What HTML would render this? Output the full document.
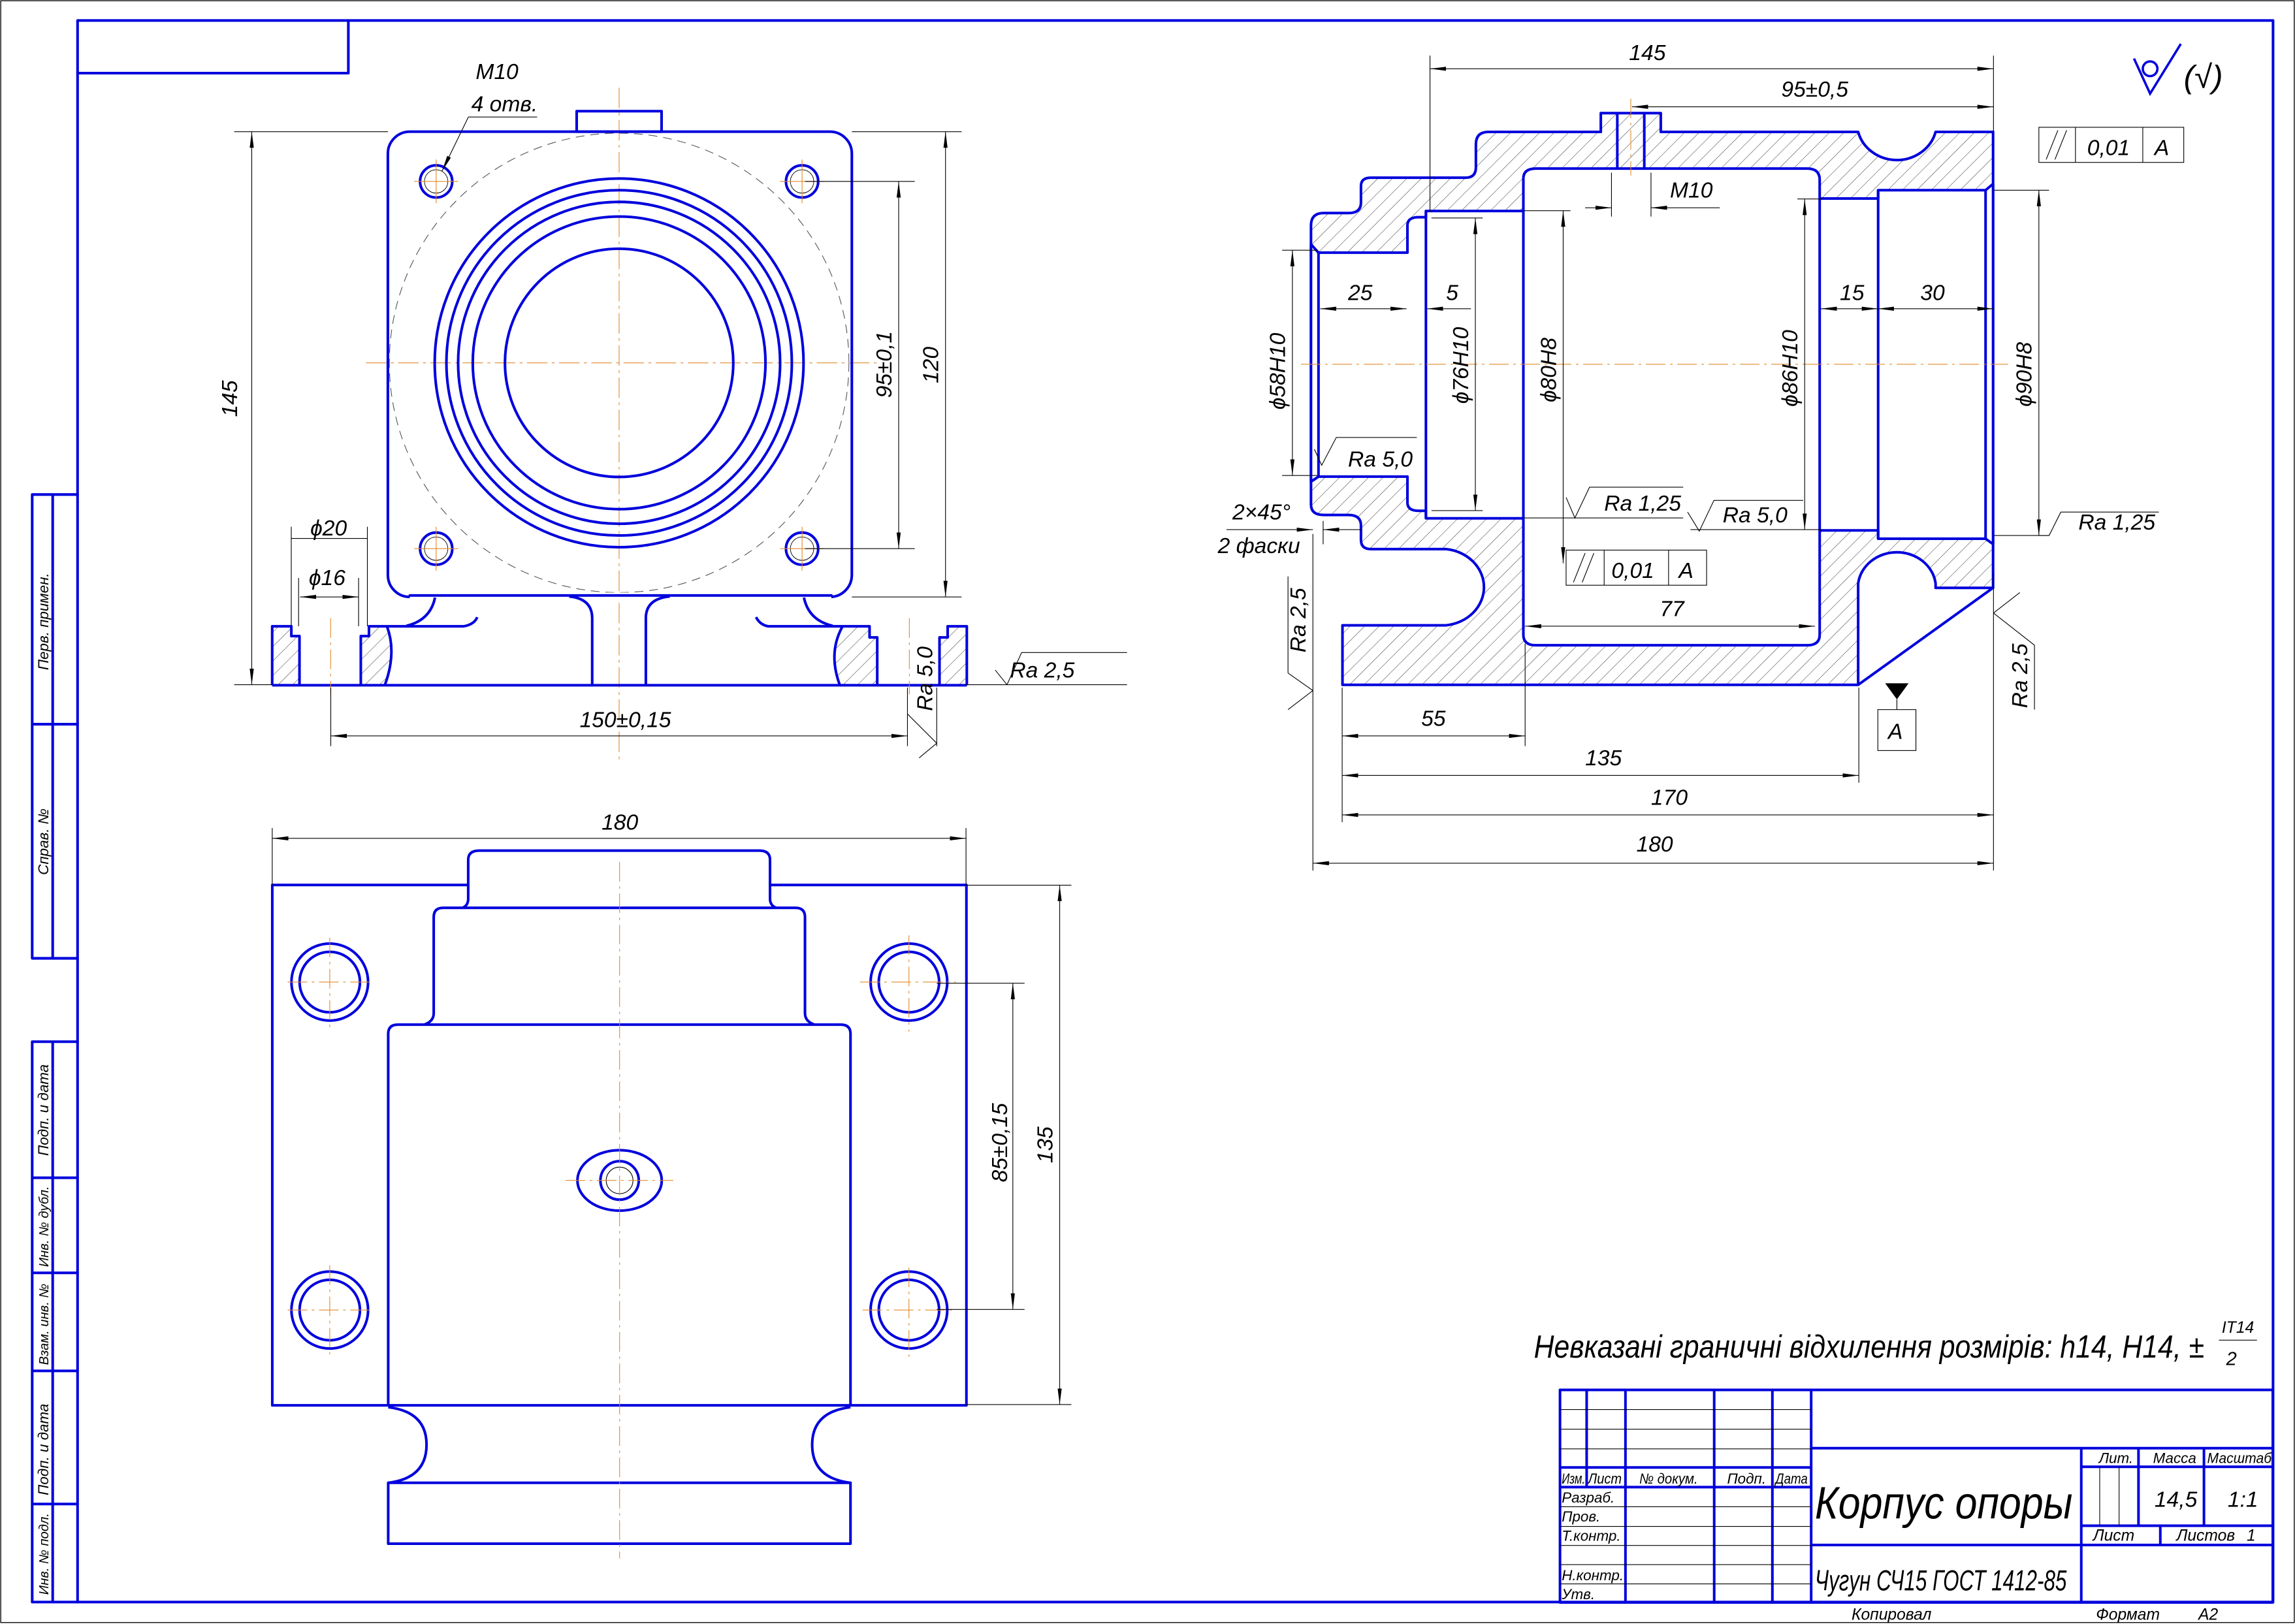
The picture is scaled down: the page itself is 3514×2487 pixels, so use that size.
<!DOCTYPE html>
<html><head><meta charset="utf-8"><style>
html,body{margin:0;padding:0;background:#fff}
svg{display:block}
.b{fill:none;stroke:#0000dd;stroke-width:1.8;stroke-linejoin:round;stroke-linecap:round}
.bn{fill:none;stroke:#0000dd;stroke-width:4;vector-effect:non-scaling-stroke;stroke-linejoin:round}
.dn{stroke:#000;stroke-width:1.1;fill:none;vector-effect:non-scaling-stroke}
.d{stroke:#000;stroke-width:0.5;fill:none}
.c{stroke:#e08a2a;stroke-width:0.5;fill:none;stroke-dasharray:14 3 2 3}
.cn{stroke:#e08a2a;stroke-width:1.1;fill:none;stroke-dasharray:30 7 4 7;vector-effect:non-scaling-stroke}
text{font-family:"Liberation Sans","DejaVu Sans",sans-serif;font-style:italic;fill:#000}
.t{font-size:15px}
.s{font-size:9px}
</style></head><body>
<svg width="3514" height="2487" viewBox="0 0 1568 1110" preserveAspectRatio="none" xmlns="http://www.w3.org/2000/svg">
<defs>
<marker id="a" markerWidth="12" markerHeight="6" refX="11" refY="3" orient="auto-start-reverse" markerUnits="userSpaceOnUse"><path d="M11,3 L0,1.6 L0,4.4 Z" fill="#000"/></marker>
<pattern id="h1" patternUnits="userSpaceOnUse" width="7" height="7" patternTransform="scale(2.929,3.514) rotate(45)"><line x1="0" y1="0" x2="0" y2="7" stroke="#333" stroke-width="0.45"/></pattern>
<pattern id="h3" patternUnits="userSpaceOnUse" width="7" height="7" patternTransform="scale(3.055,6.72) rotate(45)"><line x1="0" y1="0" x2="0" y2="7" stroke="#333" stroke-width="0.45"/></pattern>
</defs>
<rect x="0" y="0" width="1568" height="1110" fill="#fff"/>
<rect x="0.5" y="0.5" width="1567" height="1108.5" fill="none" stroke="#000" stroke-width="0.6"/>
<!-- frame -->
<rect x="53" y="14" width="1500" height="1081" class="b"/>
<path d="M53 50 H238 V14" class="b"/>
<path d="M22 338 H53 M22 338 V655 M22 712 V1095 H53 M36 338 V655 M36 712 V1095 M22 495 H53 M22 655 H53 M22 712 H53 M22 805 H53 M22 870 H53 M22 937 H53 M22 1028 H53" class="b"/>
<g>
<text transform="translate(33,458) rotate(-90)" font-size="10">Перв. примен.</text>
<text transform="translate(33,598) rotate(-90)" font-size="10">Справ. №</text>
<text transform="translate(33,790) rotate(-90)" font-size="10">Подп. и дата</text>
<text transform="translate(33,866) rotate(-90)" font-size="9">Инв. № дубл.</text>
<text transform="translate(33,933) rotate(-90)" font-size="9">Взам. инв. №</text>
<text transform="translate(33,1022) rotate(-90)" font-size="10">Подп. и дата</text>
<text transform="translate(33,1090) rotate(-90)" font-size="9">Инв. № подл.</text>
</g>

<!-- ===== FRONT VIEW ===== -->
<line x1="423" y1="60" x2="423" y2="520" class="c"/>
<line x1="250" y1="248" x2="600" y2="248" class="c"/>
<circle cx="423" cy="248" r="157" fill="none" stroke="#555" stroke-width="0.5" stroke-dasharray="6 4"/>
<rect x="394" y="76" width="58" height="14" class="b"/>
<rect x="265" y="90" width="317" height="318" rx="15" class="b"/>
<rect x="280" y="405" width="288" height="5" fill="#fff"/>
<line x1="280" y1="407" x2="568" y2="407" class="b"/>
<circle cx="423" cy="248" r="126" class="b"/>
<circle cx="423" cy="248" r="118" class="b"/>
<circle cx="423" cy="248" r="110" class="b"/>
<circle cx="423" cy="248" r="100" class="b"/>
<circle cx="423" cy="248" r="78" class="b"/>
<g>
<circle cx="298" cy="124" r="11" class="b"/><circle cx="298" cy="124" r="8" fill="none" stroke="#000" stroke-width="0.4"/>
<circle cx="548" cy="124" r="11" class="b"/><circle cx="548" cy="124" r="8" fill="none" stroke="#000" stroke-width="0.4"/>
<circle cx="298" cy="375" r="11" class="b"/><circle cx="298" cy="375" r="8" fill="none" stroke="#000" stroke-width="0.4"/>
<circle cx="548" cy="375" r="11" class="b"/><circle cx="548" cy="375" r="8" fill="none" stroke="#000" stroke-width="0.4"/>
<path d="M283 124H313M298 109V139M533 124H563M548 109V139M283 375H313M298 360V390M533 375H563M548 360V390" stroke="#e08a2a" stroke-width="0.5"/>
</g>
<g transform="translate(169.6,379.4) scale(0.3273,0.1488)">
<path d="M50 327 L90 327 L90 372 L107 372 L107 598 L50 598 Z" style="fill:url(#h3)"/>
<path d="M235 598 L235 372 L252 372 L252 327 L290 330 Q310 450 285 598 Z" style="fill:url(#h3)"/>
<path d="M1240 330 L1297 327 L1297 378 L1313 378 L1313 598 L1235 598 Q1210 450 1240 330 Z" style="fill:url(#h3)"/>
<path d="M1460 327 L1500 327 L1500 598 L1443 598 L1443 378 L1460 378 Z" style="fill:url(#h3)"/>
<path d="M50 598 L50 327 L90 327 L90 372 L107 372 L107 598" class="bn"/>
<path d="M235 598 L235 372 L252 372 L252 327 L450 327 Q472 318 478 285" class="bn"/>
<path d="M290 330 Q310 450 285 598" class="bn"/>
<path d="M50 598 L1500 598" class="bn"/>
<path d="M390 195 Q380 300 330 325" class="bn"/>
<path d="M670 190 Q718 200 718 290 L718 598 M880 190 Q830 200 830 290 L830 598" class="bn"/>
<path d="M1060 285 Q1068 320 1085 327 L1297 327 L1297 378 L1313 378 L1313 598 M1443 598 L1443 378 L1460 378 L1460 327 L1500 327 L1500 598" class="bn"/>
<path d="M1160 195 Q1170 300 1220 325 M1240 330 Q1210 450 1235 598" class="bn"/>
<path d="M172 290 V640 M1380 290 V640" class="cn"/>
</g>
<!-- front dims -->
<path d="M160 90 H265 M160 468 H186" class="d"/>
<line x1="172" y1="90" x2="172" y2="468" class="d" marker-start="url(#a)" marker-end="url(#a)"/>
<text class="t" transform="translate(162,285) rotate(-90)">145</text>
<path d="M550 124 H625 M550 375 H625 M582 90 H657 M582 408 H657" class="d"/>
<line x1="614" y1="124" x2="614" y2="375" class="d" marker-start="url(#a)" marker-end="url(#a)"/>
<line x1="646" y1="90" x2="646" y2="408" class="d" marker-start="url(#a)" marker-end="url(#a)"/>
<text class="t" transform="translate(609,272) rotate(-90)">95±0,1</text>
<text class="t" transform="translate(641,262) rotate(-90)">120</text>
<text class="t" x="325" y="54">M10</text>
<text class="t" x="322" y="76">4 отв.</text>
<path d="M320 80 H367" class="d"/>
<line x1="320" y1="80" x2="302" y2="117" class="d" marker-end="url(#a)"/>
<path d="M199 360 V428 M251 360 V428 M204 395 V428 M245 395 V428" class="d"/>
<line x1="199" y1="368" x2="251" y2="368" class="d"/>
<text class="t" x="212" y="366">ϕ20</text>
<line x1="205" y1="408" x2="245" y2="408" class="d" marker-start="url(#a)" marker-end="url(#a)"/>
<text class="t" x="211" y="400">ϕ16</text>
<path d="M226 470 V510 M620 470 V510 M640 470 V510" class="d"/>
<line x1="226" y1="503" x2="620" y2="503" class="d" marker-start="url(#a)" marker-end="url(#a)"/>
<text class="t" x="396" y="497">150±0,15</text>
<path d="M620 488 L640 508 M640 508 L628 518" class="d"/>
<text class="t" transform="translate(637,486) rotate(-90)">Ra 5,0</text>
<path d="M660 468 H770 M680 458 L688 468 L698 446 H770" class="d"/>
<text class="t" x="690" y="463">Ra 2,5</text>

<!-- ===== SECTION VIEW ===== -->
<g transform="translate(870.1,44.6) scale(0.3414,0.2846)">
<path d="M430 160 L655 160 L655 115 L775 115 L775 160 L1170 160 A80 90 0 0 0 1325 160 L1440 160 L1440 1255 L1325 1255 L1325 1245 A78 85 0 0 0 1170 1245 L1170 1488 L138 1488 L138 1345 L345 1345 A85 92 0 0 0 345 1162 L195 1162 Q175 1162 175 1140 L175 1105 Q175 1080 150 1080 L100 1080 Q75 1080 75 1055 L75 385 Q75 355 100 355 L150 355 Q175 355 175 330 L175 290 Q175 270 195 270 L385 270 Q405 270 405 245 L405 190 Q405 160 430 160 Z" class="bn" style="fill:url(#h1)"/>
<path d="M75 430 L90 450 L268 450 L268 385 Q268 365 290 365 L305 365 L305 350 L500 350 L500 272 Q500 248 525 248 L1068 248 Q1093 248 1093 275 L1093 320 L1210 320 L1210 300 L1425 300 L1440 285 L1440 1150 L1425 1137 L1210 1137 L1210 1117 L1093 1117 L1093 1368 Q1093 1393 1068 1393 L525 1393 Q500 1393 500 1368 L500 1088 L305 1088 L305 1070 L290 1070 Q268 1070 268 1050 L268 988 L90 988 L75 1000 Z" class="bn" style="fill:#fff"/>
<path d="M90 450 V988 M305 350 V1088 M500 272 V1368 M1093 320 V1117 M1210 300 V1137 M1425 300 V1137" class="bn"/>
<path d="M1170 1488 L1440 1255" class="bn"/>
<path d="M688 115 V248 M742 115 V248" class="bn"/>
<path d="M715 80 V265" class="cn"/>
<path d="M55 718 H1470" class="cn"/>
</g>
<!-- section dims -->
<path d="M977 38 V145 M1362 38 V90" class="d"/>
<line x1="977" y1="47" x2="1362" y2="47" class="d" marker-start="url(#a)" marker-end="url(#a)"/>
<text class="t" x="1113" y="41">145</text>
<line x1="1115" y1="73" x2="1362" y2="73" class="d" marker-start="url(#a)"  marker-end="url(#a)"/>
<text class="t" x="1217" y="66">95±0,5</text>
<path d="M1101 118 V148 M1128 118 V148" class="d"/>
<line x1="1083" y1="142" x2="1101" y2="142" class="d" marker-end="url(#a)"/>
<line x1="1175" y1="142" x2="1128" y2="142" class="d" marker-end="url(#a)"/>
<text class="t" x="1141" y="135">M10</text>
<line x1="902" y1="211" x2="961" y2="211" class="d" marker-start="url(#a)" marker-end="url(#a)"/>
<line x1="975" y1="211" x2="1005" y2="211" class="d" marker-start="url(#a)"/>
<text class="t" x="921" y="205">25</text>
<text class="t" x="988" y="205">5</text>
<line x1="1244" y1="211" x2="1283" y2="211" class="d" marker-start="url(#a)" marker-end="url(#a)"/>
<line x1="1283" y1="211" x2="1362" y2="211" class="d" marker-start="url(#a)" marker-end="url(#a)"/>
<text class="t" x="1257" y="205">15</text>
<text class="t" x="1312" y="205">30</text>
<path d="M876 171 H900 M876 325 H900" class="d"/>
<line x1="883" y1="171" x2="883" y2="325" class="d" marker-start="url(#a)" marker-end="url(#a)"/>
<text class="t" transform="translate(878,280) rotate(-90)">ϕ58H10</text>
<path d="M978 149 H1013 M978 349 H1013" class="d"/>
<line x1="1008" y1="149" x2="1008" y2="349" class="d" marker-start="url(#a)" marker-end="url(#a)"/>
<text class="t" transform="translate(1003,276) rotate(-90)">ϕ76H10</text>
<path d="M1041 144 H1073 M1041 354 H1150" class="d"/>
<line x1="1068" y1="144" x2="1068" y2="385" class="d" marker-start="url(#a)" marker-end="url(#a)"/>
<text class="t" transform="translate(1063,275) rotate(-90)">ϕ80H8</text>
<path d="M1228 136 H1245 M1155 362 H1245" class="d"/>
<line x1="1233" y1="136" x2="1233" y2="362" class="d" marker-start="url(#a)" marker-end="url(#a)"/>
<text class="t" transform="translate(1228,278) rotate(-90)">ϕ86H10</text>
<path d="M1362 130 H1400 M1362 366 H1400" class="d"/>
<line x1="1393" y1="130" x2="1393" y2="366" class="d" marker-start="url(#a)" marker-end="url(#a)"/>
<text class="t" transform="translate(1388,278) rotate(-90)">ϕ90H8</text>
<!-- roughness marks -->
<path d="M898 307 L903 318 L913 299 H968" class="d"/>
<text class="t" x="921" y="319">Ra 5,0</text>
<path d="M1070 340 L1076 354 L1086 333 H1150" class="d"/>
<text class="t" x="1096" y="349">Ra 1,25</text>
<path d="M1153 350 L1161 363 L1171 342 H1232" class="d"/>
<text class="t" x="1177" y="357">Ra 5,0</text>
<path d="M1393 366 L1400 366 L1408 350 H1475" class="d"/>
<text class="t" x="1420" y="362">Ra 1,25</text>
<path d="M1362 392 V595 M897 365 V595 M917 470 V562 M1042 440 V510 M1270 470 V535" class="d"/>
<path d="M880 460 L897 472 L880 485 M880 460 V394" class="d"/>
<text class="t" transform="translate(892,446) rotate(-90)">Ra 2,5</text>
<path d="M1362 419 L1380 405 M1362 419 L1390 441 V485" class="d"/>
<text class="t" transform="translate(1385,484) rotate(-90)">Ra 2,5</text>
<text class="t" x="842" y="355">2×45°</text>
<line x1="838" y1="362" x2="897" y2="362" class="d" marker-end="url(#a)"/>
<line x1="930" y1="362" x2="904" y2="362" class="d" marker-end="url(#a)"/>
<path d="M904 356 V372" class="d"/>
<text class="t" x="832" y="378">2 фаски</text>
<rect x="1070" y="376" width="96" height="24" class="d"/>
<path d="M1096 376 V400 M1140 376 V400 M1075 398 L1083 378 M1081 398 L1089 378" class="d"/>
<text class="t" x="1101" y="395">0,01</text>
<text class="t" x="1147" y="395">A</text>
<rect x="1393" y="87" width="99" height="24" class="d"/>
<path d="M1418 87 V111 M1464 87 V111 M1398 109 L1406 89 M1404 109 L1412 89" class="d"/>
<text class="t" x="1426" y="106">0,01</text>
<text class="t" x="1472" y="106">A</text>
<line x1="1042" y1="428" x2="1240" y2="428" class="d" marker-start="url(#a)" marker-end="url(#a)"/>
<text class="t" x="1134" y="421">77</text>
<line x1="917" y1="503" x2="1042" y2="503" class="d" marker-start="url(#a)" marker-end="url(#a)"/>
<text class="t" x="971" y="496">55</text>
<line x1="917" y1="530" x2="1270" y2="530" class="d" marker-start="url(#a)" marker-end="url(#a)"/>
<text class="t" x="1083" y="523">135</text>
<line x1="917" y1="557" x2="1362" y2="557" class="d" marker-start="url(#a)" marker-end="url(#a)"/>
<text class="t" x="1128" y="550">170</text>
<line x1="897" y1="590" x2="1362" y2="590" class="d" marker-start="url(#a)" marker-end="url(#a)"/>
<text class="t" x="1118" y="582">180</text>
<path d="M1288 467 H1304 L1296 478 Z" fill="#000"/>
<path d="M1296 478 V485" class="d"/>
<rect x="1283" y="485" width="26" height="28" class="d"/>
<text class="t" x="1290" y="505">A</text>
<!-- top-right sign -->
<circle cx="1469" cy="47" r="5" fill="none" stroke="#0000dd" stroke-width="1.6"/>
<path d="M1458 40 L1469 64 L1490 30" fill="none" stroke="#0000dd" stroke-width="1.6"/>
<text x="1492" y="60" font-size="22">(√)</text>

<!-- ===== BOTTOM VIEW ===== -->
<g transform="translate(178.5,557.9) scale(0.3273,0.3131)">
<path d="M432 150 L23 150 L23 1286 L1472 1286 L1472 150 L1062 150" class="bn"/>
<path d="M420 200 Q432 195 432 180 L432 95 Q432 75 455 75 L1040 75 Q1062 75 1062 95 L1062 180 Q1062 195 1075 200" class="bn"/>
<path d="M340 455 Q360 448 360 430 L360 220 Q360 200 380 200 L1115 200 Q1135 200 1135 220 L1135 430 Q1135 448 1155 455" class="bn"/>
<path d="M265 1286 L265 475 Q265 455 285 455 L1210 455 Q1230 455 1230 475 L1230 1286" class="bn"/>
<path d="M265 1290 Q345 1300 345 1372 Q345 1445 265 1455 M1230 1290 Q1150 1300 1150 1372 Q1150 1445 1230 1455" class="bn"/>
<path d="M265 1455 H1230 V1588 H265 Z" class="bn"/>
<g>
<ellipse cx="143" cy="362" rx="80" ry="84" class="bn"/><ellipse cx="143" cy="362" rx="63" ry="66" class="bn"/>
<ellipse cx="1352" cy="362" rx="80" ry="84" class="bn"/><ellipse cx="1352" cy="362" rx="63" ry="66" class="bn"/>
<ellipse cx="143" cy="1078" rx="80" ry="84" class="bn"/><ellipse cx="143" cy="1078" rx="63" ry="66" class="bn"/>
<ellipse cx="1352" cy="1078" rx="80" ry="84" class="bn"/><ellipse cx="1352" cy="1078" rx="63" ry="66" class="bn"/>
</g>
<ellipse cx="748" cy="795" rx="88" ry="66" class="bn"/>
<ellipse cx="748" cy="795" rx="40" ry="42" class="bn"/>
<ellipse cx="748" cy="795" rx="28" ry="29" class="dn"/>
<path d="M748 100 V1620 M635 795 H860 M55 362 H230 M143 265 V465 M1250 362 H1450 M1352 260 V470 M55 1078 H230 M143 980 V1175 M1255 1078 H1450 M1352 985 V1180" class="cn"/>
</g>
<path d="M186 566 V605 M660 566 V605" class="d"/>
<line x1="186" y1="573" x2="660" y2="573" class="d" marker-start="url(#a)" marker-end="url(#a)"/>
<text class="t" x="411" y="567">180</text>
<path d="M640 672 H700 M640 895 H700 M660 605 H732 M660 960 H732" class="d"/>
<line x1="692" y1="672" x2="692" y2="895" class="d" marker-start="url(#a)" marker-end="url(#a)"/>
<line x1="724" y1="605" x2="724" y2="960" class="d" marker-start="url(#a)" marker-end="url(#a)"/>
<text class="t" transform="translate(688,808) rotate(-90)">85±0,15</text>
<text class="t" transform="translate(719,795) rotate(-90)">135</text>

<!-- note -->
<text x="1048" y="928" font-size="22" textLength="458" lengthAdjust="spacingAndGlyphs">Невказані граничні відхилення розмірів: h14, H14, ±</text>
<text x="1518" y="911" font-size="11">IT14</text>
<path d="M1516 916 H1542" class="d"/>
<text x="1521" y="933" font-size="13">2</text>

<!-- ===== TITLE BLOCK ===== -->
<g transform="translate(1048.6,937.3) scale(0.3313,0.1493)">
<path d="M52 85 H1522 V1058 H52 Z" class="bn"/>
<path d="M107 85 V530 M187 85 V1058 M370 85 V1058 M490 85 V1058 M570 85 V1058 M1127 352 V1058 M1245 352 V707 M1380 352 V707 M1290 707 V795" class="bn"/>
<path d="M52 440 H570 M52 530 H570 M570 352 H1522 M570 795 H1522 M1127 437 H1522 M1127 707 H1522" class="bn"/>
<path d="M52 175 H570 M52 265 H570 M52 355 H570 M52 620 H570 M52 710 H570 M52 797 H570 M52 885 H570 M52 973 H570 M1165 437 V707 M1205 437 V707" class="dn"/>
</g>
<g>
<text x="1067" y="1014" font-size="10" textLength="16" lengthAdjust="spacingAndGlyphs">Изм.</text>
<text x="1085" y="1014" font-size="10" textLength="23" lengthAdjust="spacingAndGlyphs">Лист</text>
<text x="1120" y="1014" font-size="10" textLength="40" lengthAdjust="spacingAndGlyphs">№ докум.</text>
<text x="1180" y="1014" font-size="10">Подп.</text>
<text x="1213" y="1014" font-size="10" textLength="22" lengthAdjust="spacingAndGlyphs">Дата</text>
<text x="1067" y="1027" font-size="10">Разраб.</text>
<text x="1067" y="1040" font-size="10">Пров.</text>
<text x="1067" y="1053" font-size="10">Т.контр.</text>
<text x="1067" y="1080" font-size="10">Н.контр.</text>
<text x="1067" y="1093" font-size="10">Утв.</text>
<text x="1434" y="1000" font-size="10">Лит.</text>
<text x="1471" y="1000" font-size="10">Масса</text>
<text x="1508" y="1000" font-size="10" textLength="44" lengthAdjust="spacingAndGlyphs">Масштаб</text>
<text x="1430" y="1053" font-size="11">Лист</text>
<text x="1487" y="1053" font-size="11">Листов</text>
<text x="1535" y="1053" font-size="11">1</text>
</g>
<text x="1472" y="1030" font-size="15">14,5</text>
<text x="1522" y="1030" font-size="15">1:1</text>
<text x="1240" y="1038" font-size="31" textLength="176" lengthAdjust="spacingAndGlyphs">Корпус опоры</text>
<text x="1240" y="1087" font-size="20" textLength="172" lengthAdjust="spacingAndGlyphs">Чугун СЧ15 ГОСТ 1412-85</text>
<text x="1265" y="1107" font-size="11">Копировал</text>
<text x="1432" y="1107" font-size="11">Формат</text>
<text x="1502" y="1107" font-size="11">A2</text>
</svg>
</body></html>
